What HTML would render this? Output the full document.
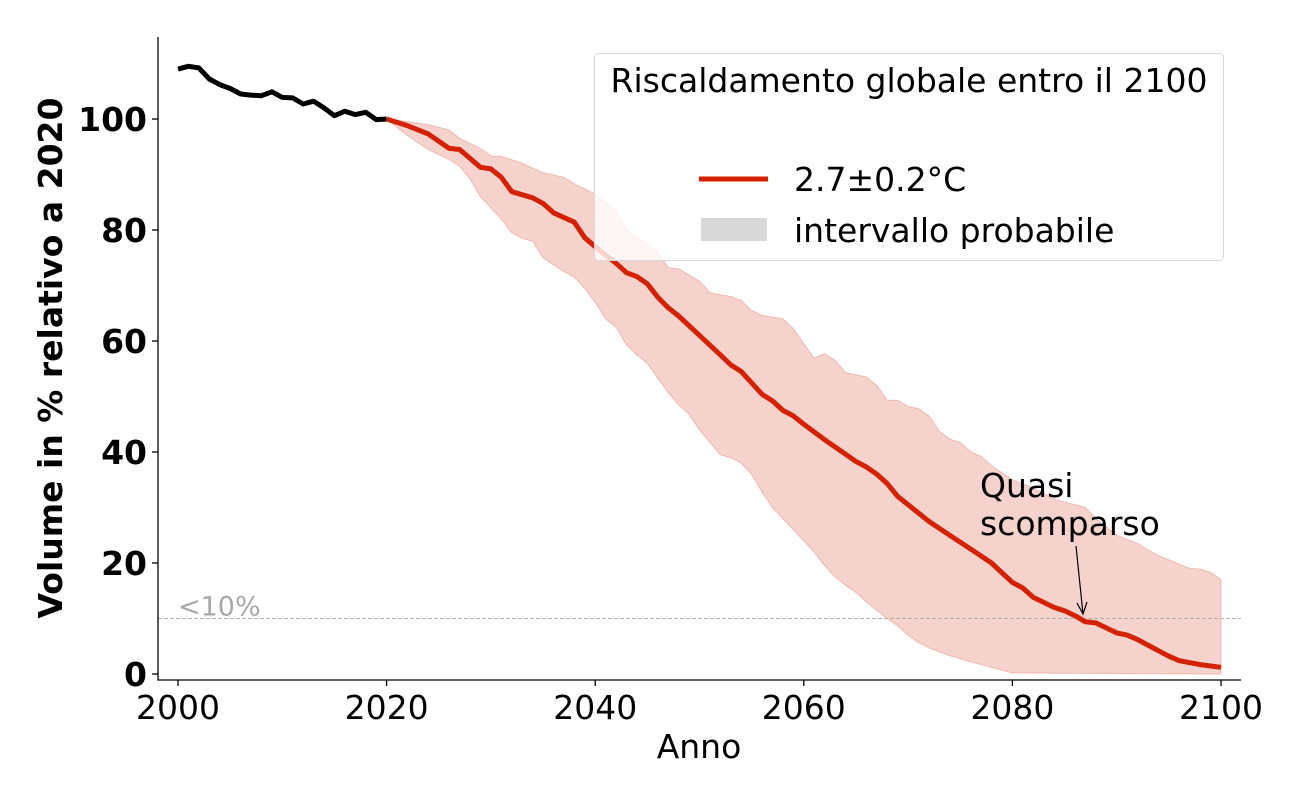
<!DOCTYPE html>
<html><head><meta charset="utf-8"><style>
body{margin:0;background:#fff}
svg text{font-family:"DejaVu Sans","Liberation Sans",sans-serif}
</style></head><body>
<svg id="chart" width="1300" height="800"></svg>
<script>
const histYears=[2000,2001,2002,2003,2004,2005,2006,2007,2008,2009,2010,2011,2012,2013,2014,2015,2016,2017,2018,2019,2020];
const histVals=[109,109.5,109.2,107.2,106.2,105.5,104.5,104.3,104.2,104.9,103.9,103.8,102.7,103.2,102,100.6,101.4,100.8,101.2,99.9,100];
const medYears=[2020,2022,2024,2026,2027,2029,2030,2031,2032,2034,2035,2036,2038,2039,2040,2042,2043,2044,2045,2046,2047,2048,2050,2052,2053,2054,2056,2057,2058,2059,2060,2062,2064,2065,2066,2067,2068,2069,2070,2072,2074,2076,2078,2080,2081,2082,2084,2085,2086,2087,2088,2090,2091,2092,2094,2095,2096,2098,2100];
const medVals=[100,98.8,97.3,94.7,94.5,91.3,91,89.5,86.9,85.8,84.8,83.1,81.4,78.6,77,74,72.3,71.6,70.3,67.9,66,64.5,61,57.5,55.7,54.5,50.4,49.2,47.5,46.5,45,42.2,39.6,38.3,37.3,36,34.3,32,30.5,27.5,25,22.5,20,16.5,15.5,13.8,12,11.4,10.5,9.4,9.2,7.4,7,6.2,4.2,3.2,2.4,1.7,1.2];
const upYears=[2020,2022,2024,2026,2027,2029,2030,2031,2033,2035,2037,2038,2040,2042,2043,2045,2046,2047,2048,2050,2051,2053,2054,2055,2056,2058,2059,2060,2061,2062,2063,2064,2066,2067,2068,2069,2070,2071,2072,2073,2074,2075,2076,2077,2078,2080,2082,2084,2086,2087,2088,2090,2092,2094,2096,2097,2098,2099,2100];
const upVals=[100,99.5,99,98,96.5,94.7,93.3,93.3,92,90.3,89.5,88.3,86.5,83.5,80,77.5,76,73.2,73,70.8,68.7,68,67.3,65.5,64.6,64,62.2,59.5,56.9,57.7,56.5,54.3,53.5,52,49.3,49.3,48.2,47.8,46.5,43.7,42.3,41.7,40,39.2,37.5,35,33.5,31.5,30.5,30,28,25,23.5,21.3,19.8,19,18.9,18.3,17];
const loYears=[2020,2022,2024,2026,2027,2028,2029,2030,2031,2032,2033,2034,2035,2037,2038,2039,2040,2041,2042,2043,2044,2045,2046,2047,2048,2049,2050,2052,2053,2054,2055,2056,2057,2058,2060,2061,2062,2063,2064,2065,2066,2067,2068,2069,2070,2071,2072,2074,2076,2078,2080,2100];
const loVals=[100,97,94.5,92.7,91.5,89.2,86,84,82,79.5,78.5,78,75,72.5,71.5,69.5,67,64,62.5,59.3,57.5,56,53.3,50.7,48.5,46.8,44,39.5,39,38,36,32.8,30,28,24,22,19.5,17.5,16,14.7,13,11.5,10,8.7,7,5.7,4.7,3.3,2.2,1.2,0.2,0];
const xTicks=[2000,2020,2040,2060,2080,2100];
const yTicks=[0,20,40,60,80,100];
const threshold=10;

const svg=document.getElementById('chart');
const NS='http://www.w3.org/2000/svg';
const X=v=>178+(v-2000)*10.43;
const Y=v=>674-v*5.55;
function mk(tag,attrs,parent){const e=document.createElementNS(NS,tag);for(const k in attrs)e.setAttribute(k,attrs[k]);(parent||svg).appendChild(e);return e;}
function pts(xs,ys){return xs.map((x,i)=>X(x).toFixed(1)+','+Y(ys[i]).toFixed(1));}

let bandPts=pts(upYears,upVals).concat(pts(loYears,loVals).reverse());
const band=mk('polygon',{points:bandPts.join(' '),fill:'#f6d2cd',stroke:'#f0b8b0','stroke-width':1});



const th=mk('line',{x1:158,x2:1241,y1:Y(threshold),y2:Y(threshold),stroke:'#b0b0b0','stroke-dasharray':'4,2','stroke-width':1});


const thl=mk('text',{x:178,y:Y(threshold)-3,fill:'#a8a8a8','font-size':27});thl.textContent='<10%';



const hist=mk('polyline',{points:pts(histYears,histVals).join(' '),fill:'none',stroke:'#000','stroke-width':5,'stroke-linejoin':'round'});


const med=mk('polyline',{points:pts(medYears,medVals).join(' '),fill:'none',stroke:'#d42200','stroke-width':5,'stroke-linejoin':'round'});



const ax=mk('path',{d:'M158,37V680H1241',fill:'none',stroke:'#000','stroke-width':1.3});


yTicks.forEach(v=>{
  mk('line',{x1:152,x2:158,y1:Y(v),y2:Y(v),stroke:'#000','stroke-width':1.3});
  const t=mk('text',{x:147,y:Y(v)+12,'text-anchor':'end','font-size':33,'font-weight':'bold'});t.textContent=v;
  
  
});
xTicks.forEach(v=>{
  mk('line',{x1:X(v),x2:X(v),y1:680,y2:686,stroke:'#000','stroke-width':1.3});
  const t=mk('text',{x:X(v),y:719,'text-anchor':'middle','font-size':33});t.textContent=v;
  
  
});
const xt=mk('text',{x:699,y:758,'text-anchor':'middle','font-size':33});xt.textContent='Anno';


const yt=mk('text',{x:0,y:0,'text-anchor':'middle','font-size':33,'font-weight':'bold',transform:'translate(62,358) rotate(-90)'});yt.textContent='Volume in % relativo a 2020';



const an=mk('text',{x:980,y:497,'font-size':33});


an.innerHTML='<tspan x="980">Quasi</tspan><tspan x="980" dy="38">scomparso</tspan>';
const ar=mk('path',{d:'M1076,546L1083,614M1077,603L1083,614L1087,602',fill:'none',stroke:'#000','stroke-width':1.2});



const lg=mk('g',{});


mk('rect',{x:594.5,y:53.5,width:629,height:207,rx:4,fill:'rgba(255,255,255,0.8)',stroke:'#d8d8d8'},lg);
const lt=mk('text',{x:909,y:92,'text-anchor':'middle','font-size':33},lg);lt.textContent='Riscaldamento globale entro il 2100';


mk('line',{x1:699,x2:768,y1:179,y2:179,stroke:'#d42200','stroke-width':5},lg);
const l1=mk('text',{x:794,y:191,'font-size':33},lg);l1.textContent='2.7±0.2°C';


mk('rect',{x:701,y:218,width:66,height:23,fill:'#d8d8d8'},lg);
const l2=mk('text',{x:794,y:242,'font-size':33},lg);l2.textContent='intervallo probabile';


</script>
</body></html>
